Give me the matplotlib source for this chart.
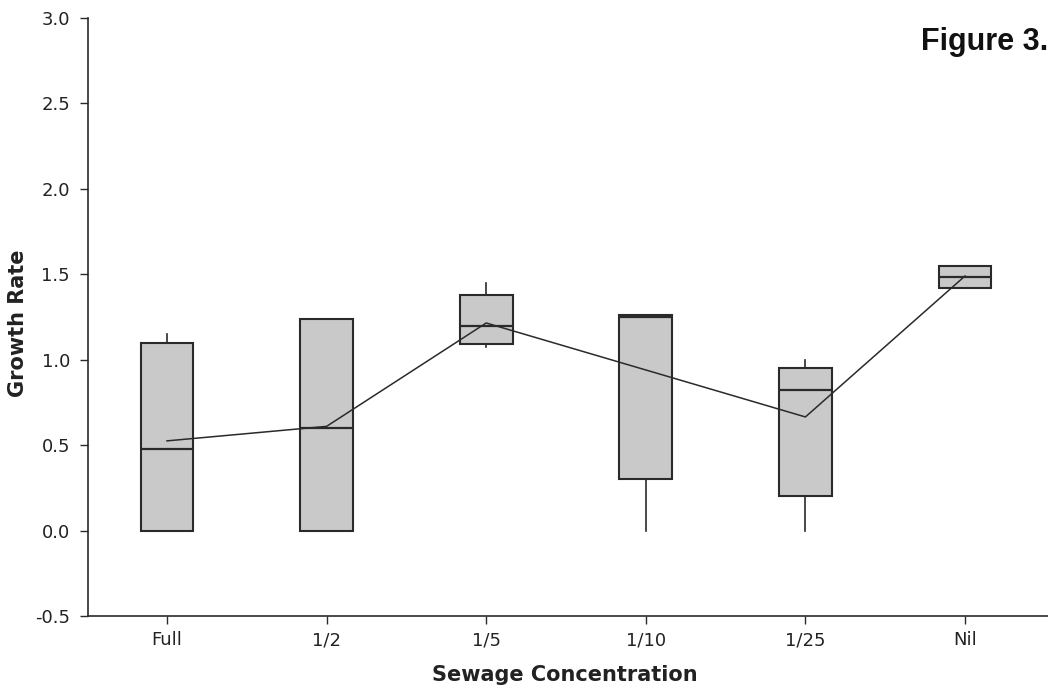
import matplotlib
matplotlib.use("Agg")
import matplotlib.pyplot as plt

plt.rcParams["font.family"] = ["DejaVu Sans"]

# Sewage concentration groups and box statistics of growth rate
categories = ["Full", "1/2", "1/5", "1/10", "1/25", "Nil"]
whisker_low = [0.0, 0.0, 1.075, 0.0, 0.0, 1.42]
q1 = [0.0, 0.0, 1.09, 0.30, 0.20, 1.42]
medians = [0.48, 0.60, 1.20, 1.25, 0.82, 1.485]
q3 = [1.10, 1.24, 1.38, 1.26, 0.95, 1.55]
whisker_high = [1.15, 1.24, 1.45, 1.26, 1.00, 1.55]
means = [0.525, 0.61, 1.215, 0.94, 0.665, 1.49]

y_ticks = [-0.5, 0.0, 0.5, 1.0, 1.5, 2.0, 2.5, 3.0]

edge = "#2a2a2a"
fill = "#c9c9c9"
text_col = "#222222"

fig = plt.figure(figsize=(10.48, 6.92), dpi=100)
ax = fig.add_axes([88 / 1048, 1 - 616 / 692, 1 - 88 / 1048, (616 - 18) / 692])

stats = []
for i, name in enumerate(categories):
    stats.append(dict(label=name, whislo=whisker_low[i], q1=q1[i], med=medians[i],
                      q3=q3[i], whishi=whisker_high[i], fliers=[]))

positions = list(range(len(categories)))
ax.bxp(stats, positions=positions, widths=0.33, patch_artist=True, showcaps=False,
       boxprops=dict(facecolor=fill, edgecolor=edge, linewidth=1.5),
       medianprops=dict(color=edge, linewidth=1.6),
       whiskerprops=dict(color=edge, linewidth=1.2))

# Line connecting the group means
ax.plot(positions, means, color=edge, linewidth=1.1, zorder=3)

ax.set_xlim(-0.495, 5.52)
ax.set_ylim(-0.5, 3.0)
ax.set_yticks(y_ticks)
ax.set_yticklabels([f"{v:.1f}" for v in y_ticks])
ax.set_xticks(positions)
ax.set_xticklabels(categories)

for s in ["top", "right"]:
    ax.spines[s].set_visible(False)
for s in ["left", "bottom"]:
    ax.spines[s].set_color(edge)
    ax.spines[s].set_linewidth(1.2)

ax.tick_params(axis="both", direction="out", length=6, width=1, color=edge,
               labelsize=13, labelcolor=text_col)
ax.tick_params(axis="y", pad=7)
ax.tick_params(axis="x", pad=5)

ax.set_ylabel("Growth Rate", fontsize=15, fontweight="bold", color=text_col)
ax.set_xlabel("Sewage Concentration", fontsize=15, fontweight="bold", color=text_col)
ax.yaxis.set_label_coords((18 - 88) / 960, 0.49)
ax.xaxis.set_label_coords((565 - 88) / 960, (616 - 675) / 598)
ax.yaxis.label.set_va("center")
ax.xaxis.label.set_va("center")

fig.text(1.0, 1 - 50 / 692, "Figure 3.", ha="right", va="baseline",
         fontsize=22, fontweight="bold", family=["Liberation Sans", "DejaVu Sans"],
         color="#111111")

fig.savefig("out.png", dpi=100, facecolor="white")
